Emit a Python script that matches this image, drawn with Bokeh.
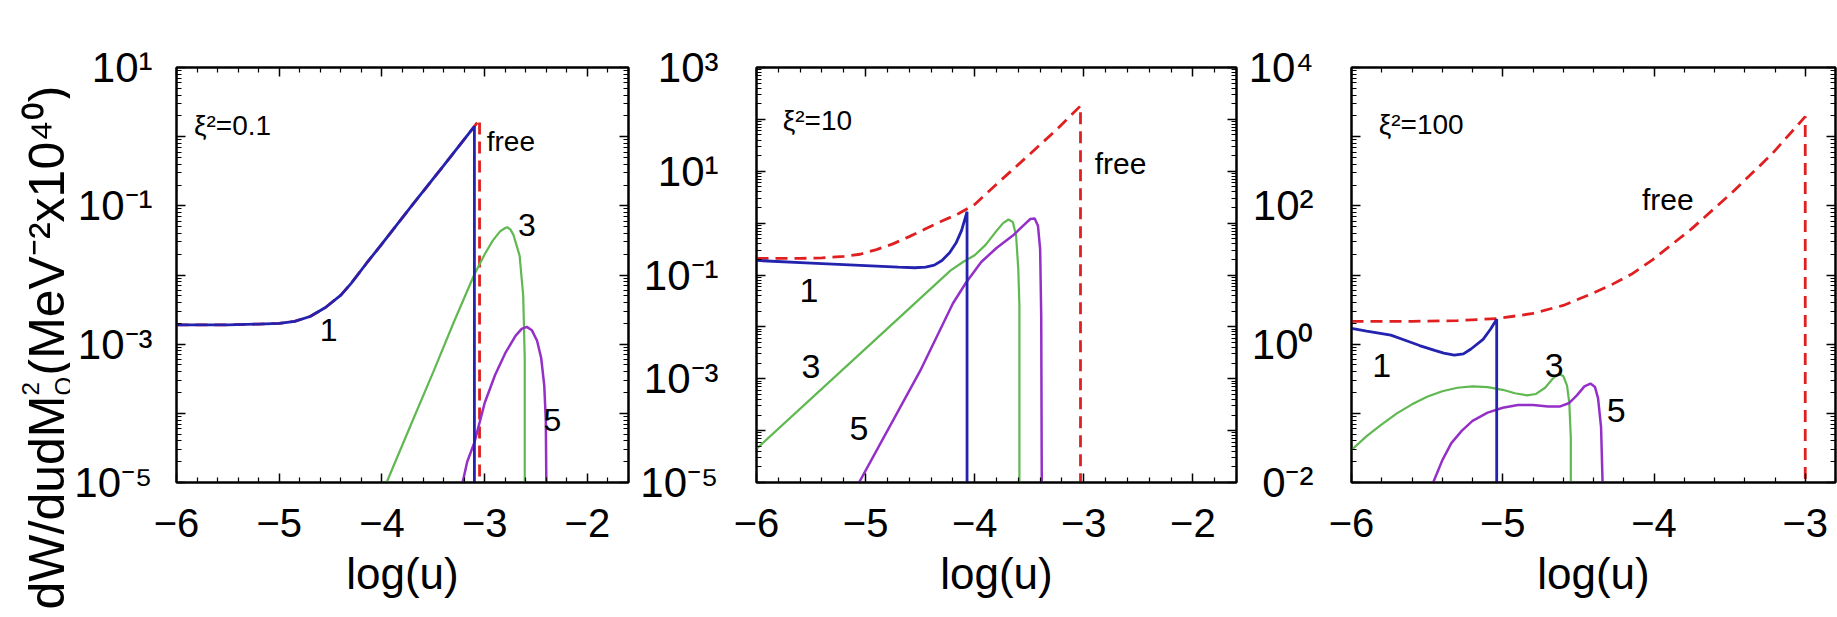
import numpy as np
from bokeh.plotting import figure
from bokeh.layouts import row
from bokeh.models import Range1d, FixedTicker, LogAxis, LinearAxis, Label, CustomJSTickFormatter
from bokeh.core.properties import value
from bokeh.embed import file_html
from bokeh.resources import INLINE

FONT = "Liberation Sans"
BLUE = "#2323b0"
GREEN = "#5fb850"
PURPLE = "#9430c8"
RED = "#e02020"

# ---------------- data (x = log(u), y given as log10 of dW/dudM_Q^2) ----------------
# panel 1 : xi^2 = 0.1
P1_FREE_X = [-6.0, -5.5, -5.2, -5.0, -4.85, -4.7, -4.55, -4.4, -4.3, -4.15, -4.0, -3.7, -3.4, -3.1, -3.05, -3.05]
P1_FREE_Y = [-2.72, -2.72, -2.71, -2.70, -2.67, -2.60, -2.47, -2.29, -2.12, -1.83, -1.55, -0.98, -0.42, 0.15, 0.25, -5.0]
P1_N1_X = [-6.0, -5.5, -5.2, -5.0, -4.85, -4.7, -4.55, -4.4, -4.3, -4.15, -4.0, -3.7, -3.4, -3.1, -3.1]
P1_N1_Y = [-2.72, -2.72, -2.71, -2.70, -2.67, -2.60, -2.47, -2.29, -2.12, -1.83, -1.55, -0.98, -0.42, 0.15, -5.0]
P1_N3_X = [-3.955, -3.7, -3.5, -3.3, -3.1, -3.0, -2.92, -2.85, -2.80, -2.78, -2.75, -2.72, -2.66, -2.625, -2.61, -2.61]
P1_N3_Y = [-5.0, -4.1, -3.4, -2.68, -1.99, -1.70, -1.50, -1.37, -1.32, -1.31, -1.34, -1.42, -1.72, -2.3, -3.2, -5.0]
P1_N5_X = [-3.215, -3.17, -3.10, -3.0, -2.9, -2.8, -2.7, -2.64, -2.59, -2.54, -2.49, -2.45, -2.42, -2.405, -2.40]
P1_N5_Y = [-5.0, -4.7, -4.42, -3.85, -3.45, -3.13, -2.88, -2.78, -2.75, -2.80, -2.95, -3.2, -3.6, -4.1, -5.0]

# panel 2 : xi^2 = 10
P2_FREE_X = [-6.0, -5.6, -5.4, -5.2, -5.05, -4.9, -4.75, -4.6, -4.45, -4.3, -4.15, -4.0, -3.8, -3.5, -3.25, -3.03, -3.03]
P2_FREE_Y = [-0.68, -0.68, -0.67, -0.64, -0.60, -0.51, -0.40, -0.26, -0.11, 0.04, 0.18, 0.36, 0.75, 1.32, 1.80, 2.26, -5.0]
P2_N1_X = [-6.0, -5.5, -5.0, -4.7, -4.55, -4.45, -4.37, -4.3, -4.23, -4.17, -4.12, -4.07, -4.07]
P2_N1_Y = [-0.72, -0.77, -0.82, -0.85, -0.86, -0.85, -0.81, -0.72, -0.57, -0.38, -0.14, 0.22, -5.0]
P2_N3_X = [-6.0, -5.0, -4.22, -4.1, -4.0, -3.9, -3.8, -3.74, -3.69, -3.65, -3.62, -3.60, -3.59, -3.59]
P2_N3_Y = [-4.35, -2.42, -0.91, -0.74, -0.62, -0.42, -0.15, 0.0, 0.07, 0.02, -0.25, -0.9, -1.6, -5.0]
P2_N5_X = [-5.06, -4.5, -4.2, -4.08, -3.94, -3.8, -3.65, -3.55, -3.49, -3.45, -3.42, -3.40, -3.39, -3.385]
P2_N5_Y = [-5.0, -2.85, -1.55, -1.15, -0.75, -0.48, -0.24, -0.04, 0.08, 0.09, -0.05, -0.5, -1.8, -5.0]

# panel 3 : xi^2 = 100
P3_FREE_X = [-6.0, -5.6, -5.3, -5.04, -4.81, -4.6, -4.4, -4.28, -4.15, -4.01, -3.75, -3.48, -3.22, -3.0, -3.0]
P3_FREE_Y = [0.33, 0.33, 0.34, 0.37, 0.44, 0.56, 0.74, 0.86, 1.01, 1.22, 1.67, 2.20, 2.75, 3.29, -2.0]
P3_N1_X = [-6.0, -5.9, -5.74, -5.65, -5.55, -5.45, -5.39, -5.32, -5.26, -5.21, -5.13, -5.08, -5.04, -5.04]
P3_N1_Y = [0.23, 0.19, 0.13, 0.06, -0.02, -0.09, -0.13, -0.16, -0.14, -0.07, 0.07, 0.22, 0.36, -2.0]
P3_N3_X = [-6.0, -5.9, -5.8, -5.7, -5.6, -5.5, -5.4, -5.3, -5.2, -5.1, -5.0, -4.92, -4.84, -4.78, -4.72,
           -4.67, -4.63, -4.60, -4.575, -4.56, -4.55, -4.55]
P3_N3_Y = [-1.53, -1.33, -1.16, -1.00, -0.87, -0.76, -0.68, -0.63, -0.61, -0.62, -0.66, -0.71, -0.74, -0.72, -0.63,
           -0.50, -0.43, -0.46, -0.60, -0.85, -1.35, -2.0]
P3_N5_X = [-5.46, -5.40, -5.34, -5.27, -5.2, -5.1, -5.0, -4.9, -4.8, -4.7, -4.62, -4.56, -4.51, -4.46, -4.42,
           -4.39, -4.37, -4.35, -4.34]
P3_N5_Y = [-2.0, -1.68, -1.43, -1.25, -1.11, -0.99, -0.92, -0.88, -0.88, -0.90, -0.90, -0.85, -0.74, -0.61, -0.57,
           -0.62, -0.78, -1.2, -2.0]

# axes
X_TICKS_12 = [-6, -5, -4, -3, -2]
X_TICKS_3 = [-6, -5, -4, -3]
P1_Y_EXP = [-5, -3, -1, 1]
P1_Y_TXT = ["10\u207b\u2075", "10\u207b\u00b3", "10\u207b\u00b9", "10\u00b9"]
P2_Y_EXP = [-5, -3, -1, 1, 3]
P2_Y_TXT = ["10\u207b\u2075", "10\u207b\u00b3", "10\u207b\u00b9", "10\u00b9", "10\u00b3"]
P3_Y_EXP = [-2, 0, 2, 4]
P3_Y_TXT = ["0\u207b\u00b2", "10\u2070", "10\u00b2", "10\u2074"]

XI_TEXT = ["\u03be\u00b2=0.1", "\u03be\u00b2=10", "\u03be\u00b2=100"]
X_TITLE = "log(u)"
Y_TITLE_MAIN = "dW/dudM"
Y_TITLE_SUB = "Q"
Y_TITLE_SUP = "2"
Y_TITLE_REST = " (MeV\u207b\u00b2x10\u2074\u2070)"

H = 617
TOP = 67
BOTTOM = 135


def xlab(t):
    return ("\u2212" + str(abs(t))) if t < 0 else str(t)


def panel(width, bl, br, xr, yexp_range, yexp, ytxt, xticks, ystand):
    p = figure(width=width, height=H, x_range=Range1d(*xr),
               y_range=Range1d(10.0 ** yexp_range[0], 10.0 ** yexp_range[1]),
               y_axis_type="log", output_backend="svg", toolbar_location=None,
               min_border_left=bl, min_border_right=br, min_border_top=TOP,
               min_border_bottom=BOTTOM)
    p.xgrid.visible = False
    p.ygrid.visible = False
    p.outline_line_color = "black"
    p.outline_line_width = 2
    p.background_fill_color = "white"
    p.border_fill_color = "white"

    majors_y = [10.0 ** e for e in range(yexp_range[0], yexp_range[1] + 1)]
    minors_y = [m * 10.0 ** e for e in range(yexp_range[0], yexp_range[1]) for m in range(2, 10)]
    yticker = FixedTicker(ticks=majors_y, minor_ticks=minors_y)
    majors_x = list(range(int(np.floor(xr[0])), int(np.ceil(xr[1])) + 1))
    minors_x = [round(a + k * 0.2, 3) for a in majors_x for k in range(1, 5)]
    xticker = FixedTicker(ticks=majors_x, minor_ticks=minors_x)

    yfmt = CustomJSTickFormatter(args=dict(exps=yexp, texts=ytxt), code="""
        const e = Math.round(Math.log10(tick));
        const i = exps.indexOf(e);
        return i < 0 ? "" : texts[i];
    """)
    xfmt = CustomJSTickFormatter(args=dict(vals=list(xticks), texts=[xlab(t) for t in xticks]), code="""
        for (let i = 0; i < vals.length; i++) { if (Math.abs(vals[i] - tick) < 1e-9) return texts[i]; }
        return "";
    """)
    blank = CustomJSTickFormatter(code='return "";')

    xa = p.xaxis[0]
    ya = p.yaxis[0]
    xa.ticker = xticker
    xa.formatter = xfmt
    ya.ticker = yticker
    ya.formatter = yfmt

    top_ax = LinearAxis(ticker=xticker, formatter=blank)
    right_ax = LogAxis(ticker=yticker, formatter=blank)
    p.add_layout(top_ax, "above")
    p.add_layout(right_ax, "right")
    for ax in (top_ax, right_ax):
        ax.major_label_text_font_size = "2px"
        ax.major_label_standoff = 0

    for ax in (xa, ya, top_ax, right_ax):
        ax.major_tick_in = 9
        ax.major_tick_out = 0
        ax.minor_tick_in = 5
        ax.minor_tick_out = 0
        ax.axis_line_width = 2
        ax.axis_line_color = "black"
        ax.major_tick_line_width = 1.5
        ax.minor_tick_line_width = 1.2
        ax.major_tick_line_color = "black"
        ax.minor_tick_line_color = "black"

    xa.major_label_text_font = FONT
    xa.major_label_text_font_size = "40px"
    xa.major_label_text_color = "black"
    xa.major_label_standoff = 26
    xa.axis_label = X_TITLE
    xa.axis_label_text_font = FONT
    xa.axis_label_text_font_size = "44px"
    xa.axis_label_text_font_style = "normal"
    xa.axis_label_text_color = "black"
    xa.axis_label_standoff = 9

    ya.major_label_text_font = FONT
    ya.major_label_text_font_size = "42px"
    ya.major_label_text_color = "black"
    ya.major_label_standoff = ystand
    return p


def lines(p, fx, fy, n1x, n1y, n3x, n3y, n5x, n5y):
    p.line(fx, 10.0 ** np.array(fy), line_color=RED, line_width=2.8, line_dash="12 7")
    p.line(n3x, 10.0 ** np.array(n3y), line_color=GREEN, line_width=2.2)
    p.line(n5x, 10.0 ** np.array(n5y), line_color=PURPLE, line_width=2.5)
    p.line(n1x, 10.0 ** np.array(n1y), line_color=BLUE, line_width=2.8)


def tag(p, x, ly, text, size, align="center"):
    p.add_layout(Label(x=x, y=10.0 ** ly, text=text, text_font=FONT, text_font_size=size,
                       text_align=align, text_baseline="middle", text_color="black"))


# ---- y-axis title strip (its own small canvas, coordinates = pixels from bottom-left) ----
p0 = figure(width=70, height=H, x_range=Range1d(0, 70), y_range=Range1d(0, H),
            output_backend="svg", toolbar_location=None, x_axis_location=None, y_axis_location=None,
            min_border_left=0, min_border_right=0, min_border_top=0, min_border_bottom=0)
if "frame_align" in p0.properties():
    p0.frame_align = False
p0.xgrid.visible = False
p0.ygrid.visible = False
p0.outline_line_color = None
p0.text(x=[46, 46], y=[8, 242], text=[Y_TITLE_MAIN, Y_TITLE_REST], angle=np.pi / 2,
        text_font=value(FONT), text_font_size="50px", text_align="left",
        text_baseline="alphabetic", text_color="black")
p0.text(x=[63, 30], y=[222, 222], text=[Y_TITLE_SUB, Y_TITLE_SUP], angle=np.pi / 2,
        text_font=value(FONT), text_font_size="24px", text_align="left",
        text_baseline="alphabetic", text_color="black")

# panel 1
p1 = panel(564, 106, 6, (-6, -1.6), (-5, 1), P1_Y_EXP, P1_Y_TXT, X_TICKS_12, 24)
lines(p1, P1_FREE_X, P1_FREE_Y, P1_N1_X, P1_N1_Y, P1_N3_X, P1_N3_Y, P1_N5_X, P1_N5_Y)
tag(p1, -5.83, 0.16, XI_TEXT[0], "28px", "left")
tag(p1, -2.98, -0.07, "free", "28px", "left")
tag(p1, -4.52, -2.80, "1", "32px")
tag(p1, -2.59, -1.28, "3", "32px")
tag(p1, -2.34, -4.10, "5", "32px")

# panel 2
p2 = panel(610, 122, 8, (-6, -1.6), (-5, 3), P2_Y_EXP, P2_Y_TXT, X_TICKS_12, 38)
lines(p2, P2_FREE_X, P2_FREE_Y, P2_N1_X, P2_N1_Y, P2_N3_X, P2_N3_Y, P2_N5_X, P2_N5_Y)
tag(p2, -5.76, 1.97, XI_TEXT[1], "28px", "left")
tag(p2, -2.90, 1.15, "free", "30px", "left")
tag(p2, -5.52, -1.29, "1", "34px")
tag(p2, -5.50, -2.76, "3", "34px")
tag(p2, -5.06, -3.95, "5", "34px")

# panel 3
p3 = panel(593, 107, 2, (-6, -2.8), (-2, 4), P3_Y_EXP, P3_Y_TXT, X_TICKS_3, 38)
lines(p3, P3_FREE_X, P3_FREE_Y, P3_N1_X, P3_N1_Y, P3_N3_X, P3_N3_Y, P3_N5_X, P3_N5_Y)
tag(p3, -5.82, 3.18, XI_TEXT[2], "28px", "left")
tag(p3, -4.08, 2.09, "free", "30px", "left")
tag(p3, -5.80, -0.31, "1", "34px")
tag(p3, -4.66, -0.31, "3", "34px")
tag(p3, -4.25, -0.96, "5", "34px")

layout = row(p0, p1, p2, p3)
open("out.html", "w").write(file_html(layout, INLINE))
